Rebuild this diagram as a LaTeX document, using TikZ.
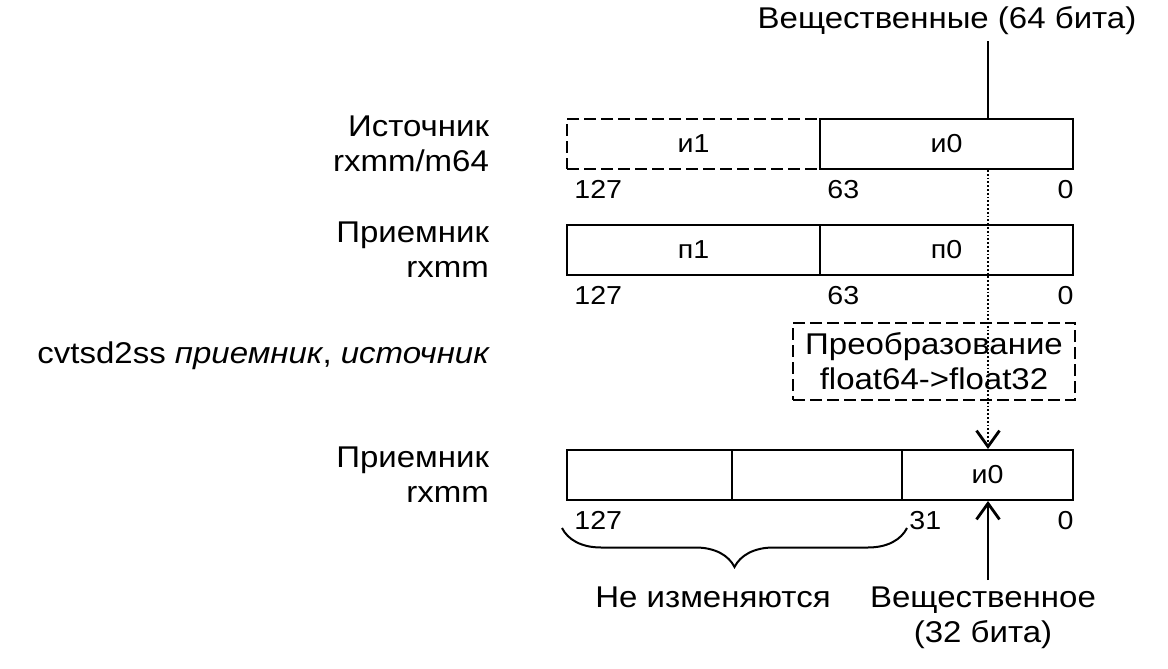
\documentclass[tikz,border=0pt]{standalone}
\usepackage{fontspec}
\setmainfont{Liberation Sans}[FakeStretch=1.1]
\usetikzlibrary{positioning,arrows.meta,decorations.pathreplacing}

\tikzset{
  cell/.style={draw, line width=1pt, minimum height=25pt, inner sep=0pt, font=\fontsize{13}{15}\selectfont},
  bit/.style={inner xsep=4pt, inner ysep=5pt, font=\fontsize{13}{15}\selectfont},
  lbl/.style={align=right, font=\fontsize{15}{17.5}\selectfont},
  txt/.style={align=center, font=\fontsize{15}{17.5}\selectfont},
  dashbox/.style={dash pattern=on 6pt off 2.5pt},
  tip/.style={-{Straight Barb[length=8pt,width=11.5pt,line width=1.4pt]}},
}

\begin{document}
\begin{tikzpicture}[x=0.5pt, y=-0.5pt]
  \useasboundingbox (0,0) rectangle (1168,669);

  % registers
  \node[cell, dashbox, minimum width=126.5pt] (s1) at (693.5,144) {и1};
  \node[cell, minimum width=126.5pt] (s0) at (946.5,144) {и0};
  \node[cell, minimum width=126.5pt] (d1) at (693.5,250) {п1};
  \node[cell, minimum width=126.5pt] (d0) at (946.5,250) {п0};
  \node[cell, minimum width=82.5pt] (b2) at (649.5,475) {};
  \node[cell, minimum width=85pt] (b1) at (817,475) {};
  \node[cell, minimum width=85.5pt] (b0) at (987.5,475) {и0};

  \foreach \c/\n in {s1/127, s0/63, d1/127, d0/63, b2/127, b0/31}
    \node[bit, anchor=north west] (\c-hi) at (\c.south west) {\n};
  \foreach \c in {s0, d0, b0}
    \node[bit, anchor=north east, inner xsep=0pt] (\c-lo) at (\c.south east) {0};

  % labels
  \node[lbl, left=35pt of s1] (srcl) {Источник\\rxmm/m64};
  \node[lbl, left=35pt of d1] (dstl) {Приемник\\rxmm};
  \node[lbl, left=35pt of b2] (resl) {Приемник\\rxmm};
  \node[lbl, anchor=east] (cmd) at (497,356) {cvtsd2ss \textit{приемник}, \textit{источник}};

  \node[txt, anchor=base] (r64) at (947,28) {Вещественные (64 бита)};
  \node[txt, draw, dashbox, line width=1pt, minimum width=141pt, minimum height=38.5pt, inner sep=2pt] (cvt) at (934,361.5) {Преобразование\\float64->float32};
  \node[txt, anchor=north] (r32) at (983,580) {Вещественное\\(32 бита)};
  \node[txt, anchor=north] (keep) at (713,580) {Не изменяются};

  % connectors
  \coordinate (ax) at (988,0);
  \coordinate (brl) at (562,528);
  \coordinate (brr) at (907,528);
  \draw[line width=1pt] (r64.south -| ax) -- (s0.north -| ax);
  \draw[densely dotted, line width=0.9pt, tip] (s0.south -| ax) -- (b0.north -| ax);
  \draw[line width=1.4pt, tip] (r32.north -| ax) -- (b0.south -| ax);
  \draw[line width=1pt, decorate, decoration={brace, mirror, amplitude=19.5pt}] (brl) -- (brr);
\end{tikzpicture}
\end{document}
